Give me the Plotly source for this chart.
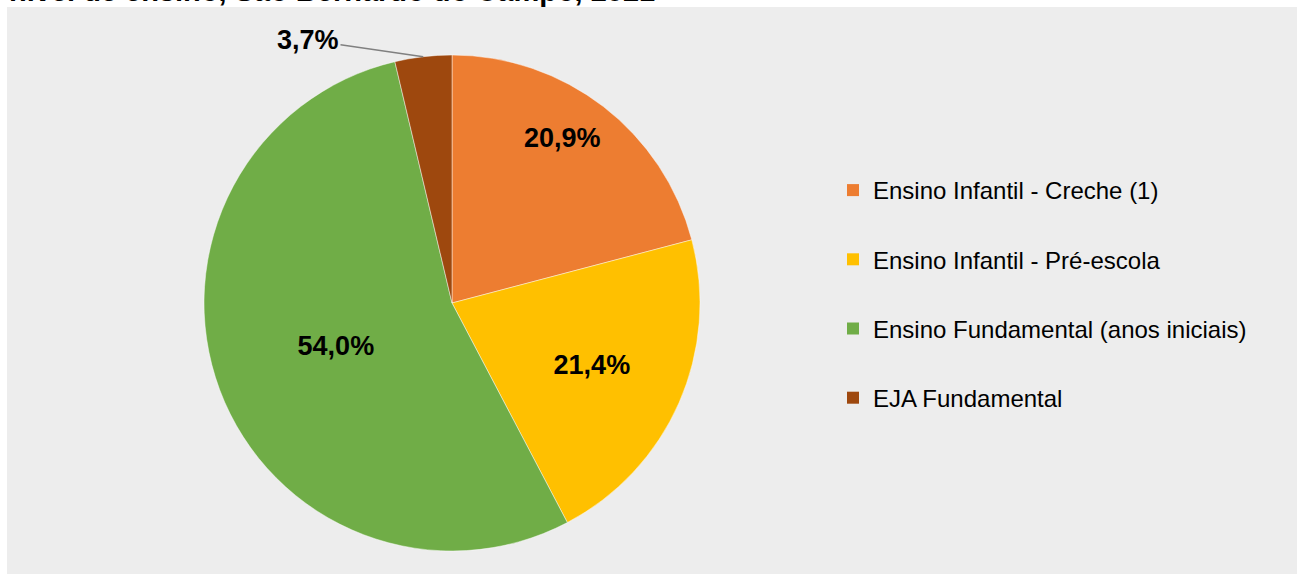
import plotly.graph_objects as go
import math

categories = ["Ensino Infantil - Creche (1)", "Ensino Infantil - Pré-escola",
              "Ensino Fundamental (anos iniciais)", "EJA Fundamental"]
values = [20.9, 21.4, 54.0, 3.7]
colors = ["#ED7D31", "#FFC000", "#70AD47", "#9E480E"]
title_text = "nível de ensino, São Bernardo do Campo, 2021"

W, H = 1297, 574
FONT = "Arial, Liberation Sans, sans-serif"
LBL = 27

labels_txt = [f"{v:.1f}".replace(".", ",") + "%" for v in values]
pie_text = ["", labels_txt[1], labels_txt[2], ""]
pos = ["none", "inside", "inside", "none"]

# pie geometry (pixels)
cx, cy, r = 452, 303, 248
total = sum(values)

fig = go.Figure()
fig.add_trace(go.Pie(
    labels=categories, values=values, sort=False, direction="clockwise", rotation=0,
    marker=dict(colors=colors, line=dict(color="rgba(255,255,255,0.45)", width=1)),
    text=pie_text, texttemplate="%{text}", textposition=pos,
    insidetextorientation="horizontal",
    textfont=dict(family=FONT, size=LBL, color="black", weight="bold"),
    showlegend=False, hoverinfo="label+percent",
    domain=dict(x=[(cx - r) / W, (cx + r) / W], y=[(H - cy - r) / H, (H - cy + r) / H]),
))

for name, c in zip(categories, colors):
    fig.add_trace(go.Scatter(x=[None], y=[None], mode="markers", name=name,
                             legendgroup=name,
                             marker=dict(symbol="square", size=12, color=c)))

# label of first slice (placed inside at computed angle)
a1 = 2 * math.pi * (values[0] / total) * 0.45
fig.add_annotation(
    x=(cx + 0.8 * r * math.sin(a1)) / W, y=1 - (cy - 0.8 * r * math.cos(a1)) / H,
    xref="paper", yref="paper", xanchor="center", yanchor="middle", showarrow=False,
    text=f"<b>{labels_txt[0]}</b>", font=dict(family=FONT, size=LBL, color="black"),
)

# outside label for the small slice with leader line
cum = sum(values[:3]) / total
frac_tip = cum + (values[3] / total) * 0.5
ang = 2 * math.pi * frac_tip
tipx = cx + r * math.sin(ang)
tipy = cy - r * math.cos(ang)
fig.add_annotation(
    x=tipx / W, y=1 - tipy / H, xref="paper", yref="paper",
    text=f"<b>{labels_txt[3]}</b>", showarrow=True, arrowhead=0, arrowwidth=1.5,
    arrowcolor="#808080", axref="pixel", ayref="pixel",
    ax=308 - tipx, ay=40 - tipy,
    font=dict(family=FONT, size=LBL, color="black"),
)

# title (top cut off as in reference)
fig.add_annotation(
    x=7 / W, y=1, xref="paper", yref="paper", xanchor="left", yanchor="bottom",
    yshift=-9, text=f"<b>{title_text}</b>", showarrow=False,
    font=dict(family=FONT, size=29, color="black"),
)

fig.update_layout(
    width=W, height=H, margin=dict(l=0, r=0, t=0, b=0),
    paper_bgcolor="white", plot_bgcolor="rgba(0,0,0,0)",
    xaxis=dict(visible=False), yaxis=dict(visible=False),
    font=dict(family=FONT, color="black"),
    shapes=[dict(type="rect", xref="paper", yref="paper", x0=7 / W, x1=1, y0=0, y1=1 - 7 / H,
                 fillcolor="#EDEDED", line=dict(width=0), layer="below")],
    legend=dict(x=833 / W, y=1 - 168 / H, xanchor="left", yanchor="top",
                font=dict(family=FONT, size=24, color="black"),
                tracegroupgap=35, bgcolor="rgba(0,0,0,0)"),
)

fig.write_html("out.html", config={"displayModeBar": False},
               post_script="document.body.style.margin='0';")
